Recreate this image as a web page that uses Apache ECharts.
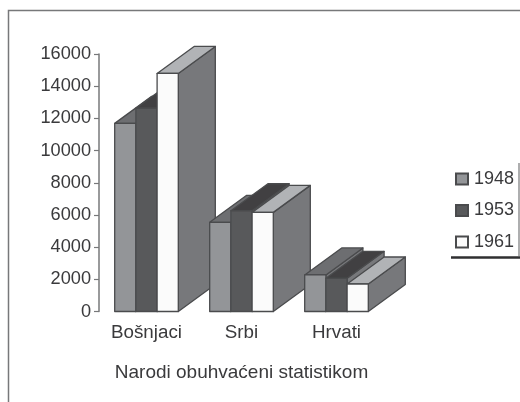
<!DOCTYPE html>
<html>
<head>
<meta charset="utf-8">
<style>html,body{margin:0;padding:0;background:#fff}#chart{width:520px;height:402px}</style>
<script src="https://cdn.jsdelivr.net/npm/echarts@6/dist/echarts.min.js"></script>
</head>
<body>
<div id="chart"></div>
<script>
const categories = ['Bošnjaci', 'Srbi', 'Hrvati'];
const v1948 = [11690, 5540, 2270];
const v1953 = [12630, 6260, 2060];
const v1961 = [14790, 6160, 1710];
const yTicks = [0, 16000];

const DEPTH_X = 37, DEPTH_Y = 27;
const BAR_W = 21.2;
const font = '"Liberation Sans", Arial, sans-serif';

// front, top and side face of one bar
function bar3d(seriesIdx, front, top, side) {
  return function (params, api) {
    const cat = api.value(0);
    const base = api.coord([cat, 0]);
    const head = api.coord([cat, api.value(1)]);
    const x0 = base[0] + (seriesIdx - 1.5) * BAR_W;
    const x1 = x0 + BAR_W;
    const y0 = base[1], y1 = head[1];
    const order = cat * 10 + seriesIdx;
    const line = { stroke: '#4a4b4d', lineWidth: 1.3, lineJoin: 'round' };
    return {
      type: 'group',
      children: [
        { type: 'polygon', z2: order, shape: { points: [[x1, y0], [x1 + DEPTH_X, y0 - DEPTH_Y], [x1 + DEPTH_X, y1 - DEPTH_Y], [x1, y1]] }, style: Object.assign({ fill: side }, line) },
        { type: 'polygon', z2: order, shape: { points: [[x0, y1], [x0 + DEPTH_X, y1 - DEPTH_Y], [x1 + DEPTH_X, y1 - DEPTH_Y], [x1, y1]] }, style: Object.assign({ fill: top }, line) },
        { type: 'rect', z2: order + 0.5, shape: { x: x0, y: y1, width: BAR_W, height: y0 - y1 }, style: Object.assign({ fill: front }, line) }
      ]
    };
  };
}

function makeSeries(name, values, idx, front, top, side) {
  return {
    name: name,
    type: 'custom',
    renderItem: bar3d(idx, front, top, side),
    encode: { x: 0, y: 1 },
    itemStyle: { color: front, borderColor: '#4a4b4d', borderWidth: 1.2 },
    data: values.map((v, i) => [i, v])
  };
}

const chart = echarts.init(document.getElementById('chart'));
chart.setOption({
  animation: false,
  backgroundColor: '#fff',
  textStyle: { fontFamily: font },
  grid: { left: 99, top: 54, width: 285, height: 257.5 },
  xAxis: {
    type: 'category',
    data: categories,
    name: 'Narodi obuhvaćeni statistikom',
    nameLocation: 'middle',
    nameGap: 52,
    nameTextStyle: { color: '#3a3a3c', fontSize: 19, fontFamily: font },
    axisLine: { show: false },
    axisTick: { show: false },
    axisLabel: { color: '#3a3a3c', fontSize: 18.8, margin: 12, fontFamily: font }
  },
  yAxis: {
    type: 'value',
    min: yTicks[0],
    max: yTicks[1],
    interval: 2000,
    splitLine: { show: false },
    axisLine: { show: true, lineStyle: { color: '#77787a', width: 1.5 } },
    axisTick: { show: true, length: 5, lineStyle: { color: '#77787a', width: 1.2 } },
    axisLabel: { color: '#3a3a3c', fontSize: 18.2, margin: 8, formatter: function (v) { return String(v); }, fontFamily: font }
  },
  legend: {
    orient: 'vertical',
    left: 455,
    top: 170,
    itemWidth: 12,
    itemHeight: 11,
    itemGap: 13.5,
    icon: 'rect',
    padding: 0,
    textStyle: { color: '#3a3a3c', fontSize: 18, padding: [0, 0, 0, 1], fontFamily: font }
  },
  series: [
    makeSeries('1948', v1948, 0, '#939598', '#6d6e71', '#77787b'),
    makeSeries('1953', v1953, 1, '#58595b', '#414042', '#77787b'),
    makeSeries('1961', v1961, 2, '#fbfbfb', '#b1b3b6', '#77787b')
  ],
  graphic: [
    { type: 'polyline', silent: true, shape: { points: [[8.5, 402], [8.5, 10.5], [520, 10.5]] }, style: { fill: null, stroke: '#77787a', lineWidth: 1.5 } },
    { type: 'line', silent: true, shape: { x1: 451, y1: 257.5, x2: 520, y2: 257.5 }, style: { stroke: '#2f2f31', lineWidth: 2.5 } },
    { type: 'line', silent: true, shape: { x1: 519, y1: 163, x2: 519, y2: 256 }, style: { stroke: '#77787a', lineWidth: 1.2 } }
  ]
});
window.addEventListener('resize', function () { chart.resize(); });
</script>
</body>
</html>
